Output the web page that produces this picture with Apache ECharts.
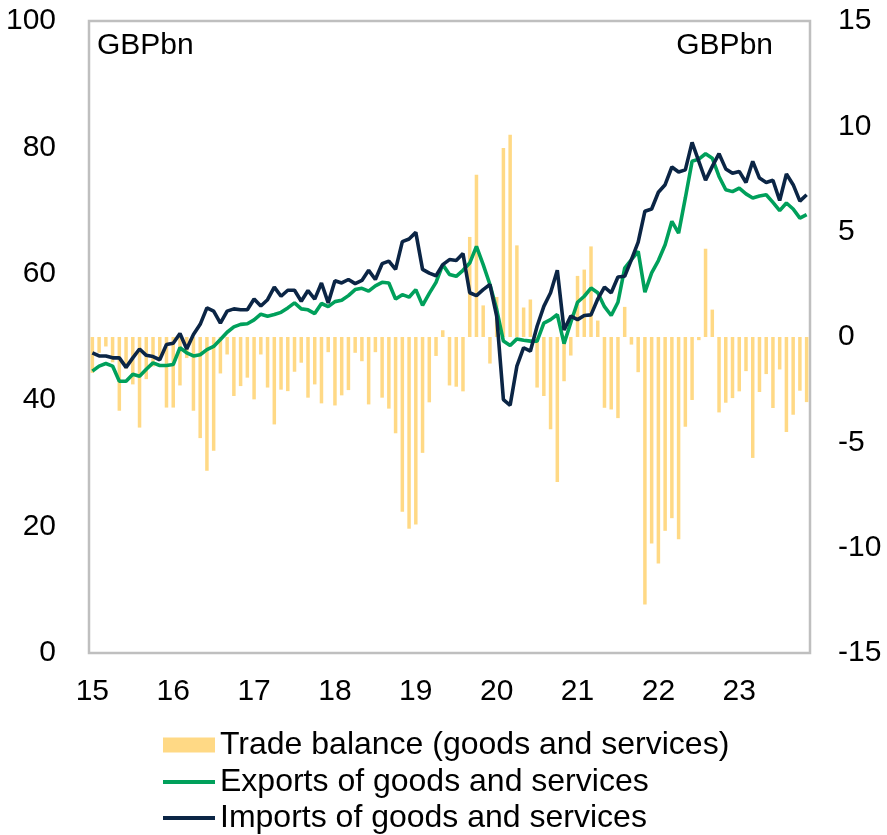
<!DOCTYPE html>
<html>
<head>
<meta charset="utf-8">
<script src="https://cdn.jsdelivr.net/npm/echarts@6/dist/echarts.min.js"></script>
<style>
html, body { margin: 0; padding: 0; background: #fff; }
#chart { width: 887px; height: 835px; }
</style>
</head>
<body>
<div id="chart"></div>
<script>
// monthly, Jan 2015 - Nov 2023
const years = ['15', '16', '17', '18', '19', '20', '21', '22', '23']
const monthNames = ['Jan', 'Feb', 'Mar', 'Apr', 'May', 'Jun', 'Jul', 'Aug', 'Sep', 'Oct', 'Nov', 'Dec']
const lastMonth = 'Nov 23'

const months = []
for (const y of years) {
  for (const m of monthNames) {
    if (months[months.length - 1] === lastMonth) break
    months.push(m + ' ' + y)
  }
}

// GBPbn, right axis
const tradeBalance = [
  -1.7, -0.75, -0.45, -1.2, -3.5, -1.5, -2.25, -4.3, -2.0, -1.4, -1.07, -3.35,
  -3.35, -2.3, -1.0, -3.5, -4.8, -6.35, -5.4, -1.73, -0.83, -2.8, -2.33, -1.93,
  -2.96, -0.83, -2.4, -4.15, -2.5, -2.57, -1.65, -1.22, -2.88, -2.25, -3.15, -0.72,
  -3.25, -2.77, -2.52, -0.75, -1.15, -3.2, -0.72, -2.88, -3.4, -4.57, -8.3, -9.1,
  -8.9, -5.5, -3.1, -0.9, 0.32, -2.3, -2.36, -2.58, 4.75, 7.7, 1.5, -1.26,
  1.9, 8.97, 9.6, 4.35, 1.4, 1.78, -2.4, -2.8, -4.38, -6.88, -2.1, -0.88,
  2.9, 3.2, 4.3, 0.78, -3.36, -3.44, -3.85, 1.43, -0.36, -1.67, -12.7, -9.8,
  -10.75, -9.2, -8.6, -9.6, -4.26, -2.99, -0.15, 4.19, 1.3, -3.58, -3.12, -2.9,
  -2.58, -1.62, -5.74, -2.61, -1.76, -3.37, -1.54, -4.51, -3.69, -2.55, -3.09
]

// GBPbn, left axis
const exportsData = [
  44.6, 45.4, 45.8, 45.4, 43.0, 43.0, 44.1, 43.8, 44.9, 45.9, 45.5, 45.5,
  45.65, 48.3, 47.5, 47.0, 47.2, 48.0, 48.5, 49.6, 50.75, 51.6, 52.0, 52.1,
  52.7, 53.6, 53.3, 53.55, 53.9, 54.6, 55.4, 54.45, 54.3, 53.7, 55.3, 54.8,
  55.6, 55.8, 56.55, 57.5, 57.7, 57.25, 58.1, 58.65, 58.55, 56.0, 56.7, 56.3,
  57.5, 55.0, 56.9, 58.65, 61.45, 59.9, 59.6, 60.55, 61.7, 64.35, 61.45, 58.3,
  54.35, 49.35, 48.65, 49.7, 49.5, 49.35, 49.35, 52.2, 52.75, 53.55, 48.95, 52.3,
  55.5, 56.45, 57.75, 57.0, 54.8, 53.4, 55.5, 60.9, 62.25, 63.55, 57.1, 60.15,
  62.1, 64.6, 68.3, 66.45, 72.0, 77.8, 78.15, 79.0, 78.3, 75.4, 73.3, 73.0,
  73.55, 72.65, 72.0, 72.3, 72.5, 71.3, 70.0, 71.2, 70.25, 68.8, 69.35
]

const importsData = [
  47.5, 47.0, 47.0, 46.7, 46.7, 45.2, 46.7, 48.1, 47.1, 46.9, 46.4, 48.8,
  49.0, 50.55, 48.1, 50.4, 52.0, 54.6, 54.1, 52.2, 54.1, 54.45, 54.3, 54.3,
  56.0, 54.9, 55.9, 57.9, 56.45, 57.4, 57.4, 55.65, 57.35, 56.0, 58.55, 55.4,
  58.9, 58.55, 59.1, 58.45, 58.95, 60.55, 59.1, 61.6, 62.0, 60.7, 65.1, 65.5,
  66.55, 60.7, 60.1, 59.7, 61.45, 62.25, 62.1, 63.2, 57.0, 56.55, 57.5, 58.3,
  53.3, 40.1, 39.2, 45.4, 48.3, 47.75, 51.7, 54.85, 57.0, 60.55, 51.1, 53.3,
  52.75, 53.4, 53.5, 56.0, 57.9, 57.0, 59.5, 59.6, 62.25, 65.0, 69.9, 70.25,
  72.9, 74.1, 76.9, 76.1, 76.45, 80.8, 77.8, 74.8, 77.0, 79.0, 76.6, 75.9,
  76.2, 74.45, 77.8, 75.15, 74.45, 74.8, 71.6, 75.8, 74.1, 71.5, 72.5
]

const font = 'Liberation Sans, Arial, sans-serif'
const axisFont = 30
const legendFont = 32

const names = [
  'Trade balance (goods and services)',
  'Exports of goods and services',
  'Imports of goods and services'
]

function legendRow (name, top, height) {
  return {
    orient: 'vertical',
    left: 163,
    top: top,
    padding: 0,
    itemWidth: 52,
    itemHeight: height,
    icon: 'rect',
    selectedMode: false,
    textStyle: { fontSize: legendFont, color: '#000', fontFamily: font, lineHeight: 32 },
    data: [name]
  }
}

const myChart = echarts.init(document.getElementById('chart'))
myChart.setOption({
  animation: false,
  backgroundColor: '#fff',
  textStyle: { fontFamily: font },
  grid: {
    left: 89,
    right: 77,
    top: 21,
    bottom: 182,
    show: true,
    borderColor: '#BFBFBF',
    borderWidth: 2.5,
    backgroundColor: 'transparent'
  },
  legend: [
    legendRow(names[0], 729, 15),
    legendRow(names[1], 766, 4),
    legendRow(names[2], 802, 4)
  ],
  graphic: [
    { type: 'text', left: 97, top: 31, style: { text: 'GBPbn', fontSize: axisFont, fontFamily: font, fill: '#000' } },
    { type: 'text', right: 114, top: 31, style: { text: 'GBPbn', fontSize: axisFont, fontFamily: font, fill: '#000' } }
  ],
  xAxis: {
    type: 'category',
    data: months,
    boundaryGap: true,
    axisLine: { show: false },
    axisTick: { show: false },
    axisLabel: {
      interval: (index) => index % 12 === 0,
      formatter: (value) => value.split(' ')[1],
      fontSize: axisFont,
      color: '#000',
      margin: 24
    },
    splitLine: { show: false }
  },
  yAxis: [
    {
      type: 'value',
      min: 0,
      max: 100,
      interval: 20,
      axisLine: { show: false },
      axisTick: { show: false },
      splitLine: { show: false },
      axisLabel: { fontSize: axisFont, color: '#000', margin: 33 }
    },
    {
      type: 'value',
      min: -15,
      max: 15,
      interval: 5,
      position: 'right',
      axisLine: { show: false },
      axisTick: { show: false },
      splitLine: { show: false },
      axisLabel: { fontSize: axisFont, color: '#000', margin: 28 }
    }
  ],
  series: [
    {
      name: names[0],
      type: 'bar',
      yAxisIndex: 1,
      data: tradeBalance,
      barWidth: 3.5,
      itemStyle: { color: '#FFD985' }
    },
    {
      name: names[1],
      type: 'line',
      yAxisIndex: 0,
      data: exportsData,
      symbol: 'none',
      lineStyle: { color: '#00A05B', width: 3.6 },
      itemStyle: { color: '#00A05B' }
    },
    {
      name: names[2],
      type: 'line',
      yAxisIndex: 0,
      data: importsData,
      symbol: 'none',
      lineStyle: { color: '#0B2545', width: 3.6 },
      itemStyle: { color: '#0B2545' }
    }
  ]
})
</script>
</body>
</html>
